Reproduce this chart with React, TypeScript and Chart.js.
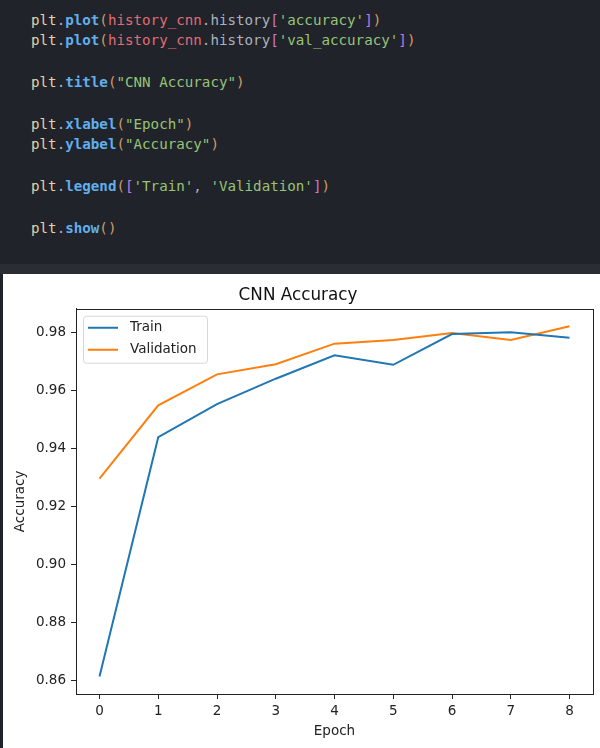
import { useEffect, useRef } from "react";
import { Chart, registerables } from "chart.js";

Chart.register(...registerables);

const epochs = [0, 1, 2, 3, 4, 5, 6, 7, 8];
const trainAcc = [0.8613, 0.9439, 0.9553, 0.9641, 0.9722, 0.9689, 0.9795, 0.9801, 0.9782];
const valAcc = [0.9296, 0.9549, 0.9656, 0.9691, 0.9762, 0.9775, 0.9799, 0.9775, 0.9822];
const yTicks = [0.86, 0.88, 0.9, 0.92, 0.94, 0.96, 0.98];
const seriesNames = ["Train", "Validation"];

const FONT = "DejaVu Sans";
const COL = {
  plt: "#e3d3a6",
  dot: "#abb2bf",
  fn: "#61afef",
  paren: "#d19a66",
  id: "#e06c75",
  br: "#c678dd",
  str: "#98c379",
};

type Tok = [string, string, boolean?];

const codeLines: Tok[][] = [
  [["plt", COL.plt], [".", COL.dot], ["plot", COL.fn, true], ["(", COL.paren], ["history_cnn", COL.id], [".history", COL.dot], ["[", COL.br], ["'accuracy'", COL.str], ["]", COL.br], [")", COL.paren]],
  [["plt", COL.plt], [".", COL.dot], ["plot", COL.fn, true], ["(", COL.paren], ["history_cnn", COL.id], [".history", COL.dot], ["[", COL.br], ["'val_accuracy'", COL.str], ["]", COL.br], [")", COL.paren]],
  [],
  [["plt", COL.plt], [".", COL.dot], ["title", COL.fn, true], ["(", COL.paren], ['"CNN Accuracy"', COL.str], [")", COL.paren]],
  [],
  [["plt", COL.plt], [".", COL.dot], ["xlabel", COL.fn, true], ["(", COL.paren], ['"Epoch"', COL.str], [")", COL.paren]],
  [["plt", COL.plt], [".", COL.dot], ["ylabel", COL.fn, true], ["(", COL.paren], ['"Accuracy"', COL.str], [")", COL.paren]],
  [],
  [["plt", COL.plt], [".", COL.dot], ["legend", COL.fn, true], ["(", COL.paren], ["[", COL.br], ["'Train'", COL.str], [", ", COL.dot], ["'Validation'", COL.str], ["]", COL.br], [")", COL.paren]],
  [],
  [["plt", COL.plt], [".", COL.dot], ["show", COL.fn, true], ["()", COL.paren]],
];

// matplotlib-style 5% margins
const allY = [...trainAcc, ...valAcc];
const yLo = Math.min(...allY);
const yHi = Math.max(...allY);
const yPad = (yHi - yLo) * 0.05;
const xPad = (epochs[epochs.length - 1] - epochs[0]) * 0.05;

const framePlugin = {
  id: "frame",
  afterDatasetsDraw(chart: any) {
    const { ctx, chartArea: a } = chart;
    ctx.save();
    ctx.strokeStyle = "#222";
    ctx.lineWidth = 1;
    ctx.strokeRect(Math.round(a.left) + 0.5, Math.round(a.top) + 0.5, Math.round(a.right - a.left), Math.round(a.bottom - a.top));
    ctx.restore();
  },
};

const legendPlugin = {
  id: "mplLegend",
  afterDraw(chart: any) {
    const { ctx, chartArea: a } = chart;
    const x = a.left + 7;
    const y = a.top + 7;
    const w = 124;
    const h = 47;
    ctx.save();
    ctx.beginPath();
    ctx.roundRect(x + 0.5, y + 0.5, w, h, 3);
    ctx.fillStyle = "rgba(255,255,255,0.8)";
    ctx.fill();
    ctx.strokeStyle = "#d6d6d6";
    ctx.lineWidth = 1;
    ctx.stroke();
    ctx.font = `13.5px "${FONT}"`;
    ctx.textBaseline = "middle";
    chart.data.datasets.forEach((ds: any, i: number) => {
      const ly = y + 12 + i * 22;
      ctx.strokeStyle = ds.borderColor;
      ctx.lineWidth = 2;
      ctx.beginPath();
      ctx.moveTo(x + 5, ly);
      ctx.lineTo(x + 35, ly);
      ctx.stroke();
      ctx.fillStyle = "#222";
      ctx.fillText(ds.label, x + 47, ly);
    });
    ctx.restore();
  },
};

function AccuracyChart() {
  const canvasRef = useRef<HTMLCanvasElement | null>(null);
  const chartRef = useRef<Chart | null>(null);

  useEffect(() => {
    if (!canvasRef.current) return;
    chartRef.current?.destroy();
    chartRef.current = new Chart(canvasRef.current, {
      type: "line",
      data: {
        datasets: [
          {
            label: seriesNames[0],
            data: epochs.map((e, i) => ({ x: e, y: trainAcc[i] })),
            borderColor: "#1f77b4",
            borderWidth: 2,
            pointRadius: 0,
            tension: 0,
          },
          {
            label: seriesNames[1],
            data: epochs.map((e, i) => ({ x: e, y: valAcc[i] })),
            borderColor: "#ff7f0e",
            borderWidth: 2,
            pointRadius: 0,
            tension: 0,
          },
        ],
      },
      options: {
        responsive: false,
        animation: false,
        devicePixelRatio: 1,
        layout: { padding: { left: 0, right: 7, top: 0, bottom: 0 } },
        plugins: {
          legend: { display: false },
          tooltip: { enabled: false },
          title: {
            display: true,
            text: "CNN Accuracy",
            color: "#111",
            font: { family: FONT, size: 16.8, weight: "normal" },
            padding: { top: 11.8, bottom: 2.8 },
          },
        },
        scales: {
          x: {
            type: "linear",
            min: epochs[0] - xPad,
            max: epochs[epochs.length - 1] + xPad,
            afterBuildTicks: (axis: any) => {
              axis.ticks = epochs.map((v) => ({ value: v }));
            },
            afterFit: (axis: any) => {
              axis.height = 54;
            },
            grid: { display: true, drawOnChartArea: false, drawTicks: true, tickLength: 5, color: "#222" },
            border: { display: true, color: "#222" },
            ticks: {
              color: "#222",
              padding: 4,
              maxRotation: 0,
              font: { family: FONT, size: 13.5 },
              callback: (v: any) => String(v),
            },
            title: {
              display: true,
              text: "Epoch",
              color: "#222",
              font: { family: FONT, size: 13.5 },
              padding: { top: 0, bottom: 8 },
            },
          },
          y: {
            type: "linear",
            min: yLo - yPad,
            max: yHi + yPad,
            afterBuildTicks: (axis: any) => {
              axis.ticks = yTicks.map((v) => ({ value: v }));
            },
            afterFit: (axis: any) => {
              axis.width = 73;
            },
            grid: { display: true, drawOnChartArea: false, drawTicks: true, tickLength: 5, color: "#222" },
            border: { display: true, color: "#222" },
            ticks: {
              color: "#222",
              padding: 5,
              font: { family: FONT, size: 13.5 },
              callback: (v: any) => Number(v).toFixed(2),
            },
            title: {
              display: true,
              text: "Accuracy",
              color: "#222",
              font: { family: FONT, size: 13.5 },
              padding: { top: 9, bottom: 0 },
            },
          },
        },
      },
      plugins: [framePlugin, legendPlugin],
    } as any);
    return () => {
      chartRef.current?.destroy();
      chartRef.current = null;
    };
  }, []);

  return <canvas ref={canvasRef} width={597} height={474} style={{ display: "block" }} />;
}

export default function App() {
  return (
    <div
      style={{
        position: "fixed",
        left: 0,
        top: 0,
        width: 600,
        height: 748,
        background: "#202329",
        overflow: "hidden",
      }}
    >
      <pre
        style={{
          position: "absolute",
          left: 31,
          top: 9.6,
          margin: 0,
          fontFamily: '"DejaVu Sans Mono", monospace',
          fontSize: 14.2,
          lineHeight: "20.8px",
          color: COL.dot,
        }}
      >
        {codeLines.map((line, i) => (
          <div key={i} style={{ height: 20.8 }}>
            {line.map(([t, c, b], j) => (
              <span key={j} style={{ color: c, fontWeight: b ? "bold" : "normal" }}>
                {t}
              </span>
            ))}
          </div>
        ))}
      </pre>
      <div style={{ position: "absolute", left: 0, top: 264, width: 600, height: 10, background: "#2a2d34" }} />
      <div style={{ position: "absolute", left: 3, top: 274, width: 597, height: 474, background: "#fff" }}>
        <AccuracyChart />
      </div>
    </div>
  );
}
